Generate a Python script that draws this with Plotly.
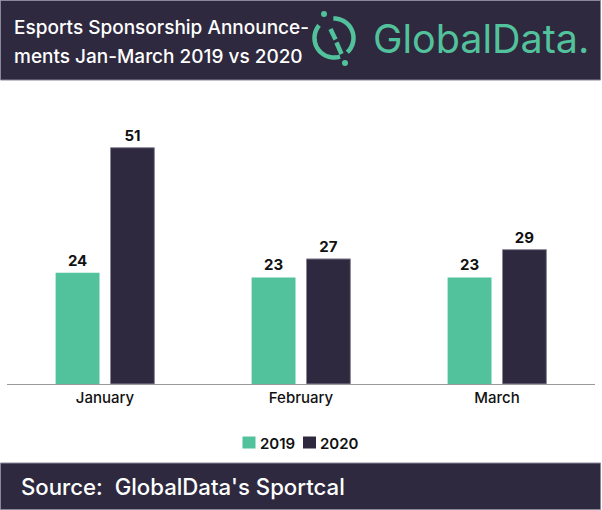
import math
import plotly.graph_objects as go

months = ["January", "February", "March"]
values_2019 = [24, 23, 23]
values_2020 = [51, 27, 29]
series_names = ["2019", "2020"]

title_line1 = "Esports Sponsorship Announce-"
title_line2 = "ments Jan-March 2019 vs 2020"
brand = "GlobalData."
source_text = "Source:  GlobalData's Sportcal"

GREEN = "#52c29c"
DARK = "#2e293e"
FONT = "Inter"

W, H = 602, 510
ML, MR, MT, MB = 7, 7, 106, 126
PW = W - ML - MR
PH = H - MT - MB


def px(x):
    return (x - ML) / PW


def py(y):
    return (H - MB - y) / PH


series_colors = [GREEN, DARK]
fig = go.Figure()
for name, vals, col, lc, lwid in [
    (series_names[0], values_2019, GREEN, GREEN, 0),
    (series_names[1], values_2020, DARK, "#8c889a", 1),
]:
    fig.add_trace(go.Bar(
        x=months, y=vals, name=name,
        marker=dict(color=col, line=dict(width=lwid, color=lc)),
        text=vals, textposition="outside",
        textfont=dict(family=FONT, size=15, color="#111111", weight=700),
        cliponaxis=False, showlegend=False,
    ))

shapes = []
# header and footer bands
shapes.append(dict(type="rect", xref="paper", yref="paper",
                   x0=px(0.5), x1=px(600.5), y0=py(0.5), y1=py(80),
                   fillcolor=DARK, line=dict(color="#8a8799", width=1), layer="below"))
shapes.append(dict(type="rect", xref="paper", yref="paper",
                   x0=px(0.5), x1=px(600.5), y0=py(463), y1=py(509.5),
                   fillcolor=DARK, line=dict(color="#8a8799", width=1), layer="below"))


def arc_path(cx, cy, r, a0, a1, n=40):
    pts = []
    for i in range(n + 1):
        a = math.radians(a0 + (a1 - a0) * i / n)
        x = cx + r * math.cos(a)
        y = cy - r * math.sin(a)
        pts.append((px(x), py(y)))
    return "M " + " L ".join(f"{a:.5f},{b:.5f}" for a, b in pts)


cx, cy, r = 334, 38, 19.5
lw = 4.5
for a0, a1 in [(140, 288), (-47, 92)]:
    shapes.append(dict(type="path", xref="paper", yref="paper",
                       path=arc_path(cx, cy, r, a0, a1),
                       line=dict(color=GREEN, width=lw)))
for (x0, y0, x1, y1) in [(330.5, 29, 335.5, 39.5), (336.5, 42.5, 341.5, 54)]:
    shapes.append(dict(type="line", xref="paper", yref="paper",
                       x0=px(x0), y0=py(y0), x1=px(x1), y1=py(y1),
                       line=dict(color=GREEN, width=lw)))
for (dx, dy) in [(324, 14), (345, 63)]:
    shapes.append(dict(type="circle", xref="paper", yref="paper",
                       x0=px(dx - 3), x1=px(dx + 3), y0=py(dy - 3), y1=py(dy + 3),
                       fillcolor=GREEN, line=dict(width=0)))

annotations = [
    dict(text=title_line1, xref="paper", yref="paper", x=px(12), y=py(27),
         xanchor="left", yanchor="middle", showarrow=False,
         font=dict(family=FONT, size=19, color="white", weight=500)),
    dict(text=title_line2, xref="paper", yref="paper", x=px(12), y=py(56),
         xanchor="left", yanchor="middle", showarrow=False,
         font=dict(family=FONT, size=19, color="white", weight=500)),
    dict(text=brand, xref="paper", yref="paper", x=px(371), y=py(39),
         xanchor="left", yanchor="middle", showarrow=False,
         font=dict(family=FONT, size=39.5, color=GREEN, weight=400)),
    dict(text=source_text, xref="paper", yref="paper", x=px(19), y=py(486),
         xanchor="left", yanchor="middle", showarrow=False,
         font=dict(family=FONT, size=22.2, color="white", weight=500)),
]

# legend (manual, to keep the square right next to its label)
legend_items = [(242.5, series_names[0], series_colors[0]), (303, series_names[1], series_colors[1])]
for lx, label, col in legend_items:
    shapes.append(dict(type="rect", xref="paper", yref="paper",
                       x0=px(lx), x1=px(lx + 13), y0=py(436.5), y1=py(448.5),
                       fillcolor=col, line=dict(width=0)))
    annotations.append(dict(text=label, xref="paper", yref="paper", x=px(lx + 15), y=py(443),
                            xanchor="left", yanchor="middle", showarrow=False,
                            font=dict(family=FONT, size=15, color="#111111", weight=600)))

fig.update_layout(
    width=W, height=H,
    margin=dict(l=ML, r=MR, t=MT, b=MB, pad=0),
    paper_bgcolor="white", plot_bgcolor="white",
    barmode="group", bargap=0.44, bargroupgap=0.2,
    font=dict(family=FONT, color="#111111"),
    showlegend=False,
    xaxis=dict(showline=True, linecolor="#9a9a9a", linewidth=1, ticks="",
               tickfont=dict(family=FONT, size=15, color="#111111", weight=500),
               showgrid=False, fixedrange=True),
    yaxis=dict(range=[0, 60], visible=False, showgrid=False, fixedrange=True),
    shapes=shapes,
    annotations=annotations,
)

fig.write_html(
    "out.html",
    config={"displayModeBar": False},
    post_script="document.body.style.margin='0';document.body.style.overflow='hidden';",
)
